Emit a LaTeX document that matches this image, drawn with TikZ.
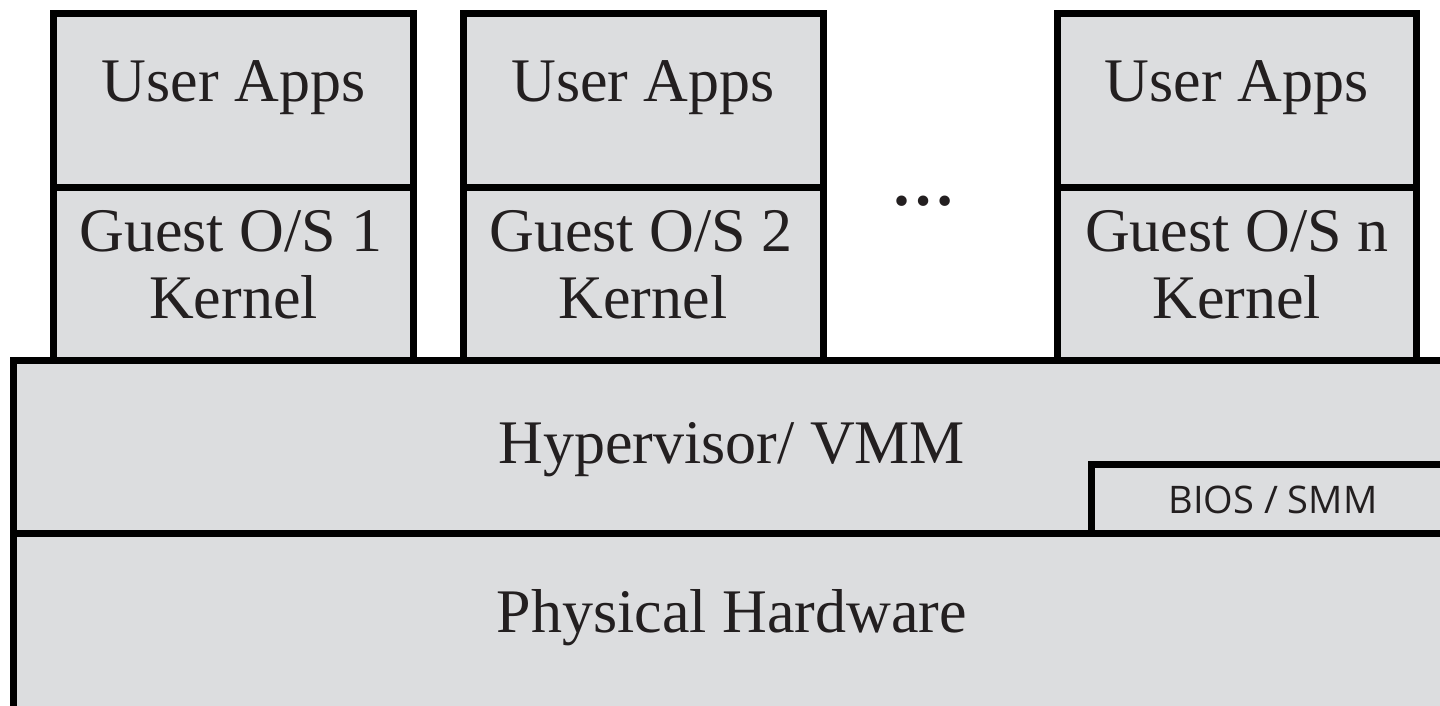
\documentclass[tikz,border=0pt]{standalone}
\usepackage{fontspec}
\setmainfont{Liberation Serif}
\newfontfamily\biosfont{Open Sans}
\definecolor{boxfill}{RGB}{220,221,223}
\definecolor{ink}{RGB}{35,31,32}
\begin{document}
\begin{tikzpicture}[x=1pt,y=-1pt,
  layer/.style={draw=black,fill=boxfill,line width=7pt},
  bigtext/.style={anchor=base,inner sep=0pt,text=ink,font=\fontsize{62}{67}\selectfont},
  smalltext/.style={anchor=base,inner sep=0pt,text=ink,font=\biosfont\fontsize{38}{40}\selectfont}]
\useasboundingbox (0,0) rectangle (1440,705);
\clip (0,0) rectangle (1440,705);
% hardware and hypervisor
\path[layer] (13.5,533.5) rectangle (1470,730);
\path[layer] (13.5,360) rectangle (1470,533.5);
\path[layer] (1091,464.5) rectangle (1470,533.5);
% VM stacks
\foreach \l/\r in {53.5/413.4, 463/823, 1057/1416.5}{
  \path[layer] (\l,13.5) rectangle (\r,187);
  \path[layer] (\l,187) rectangle (\r,360);
}
% texts
\node[bigtext] (ua1) at (233.5,101.7) {User Apps};
\node[bigtext] (ua2) at (643,101.7) {User Apps};
\node[bigtext] (ua3) at (1236.7,101.7) {User Apps};
\node[bigtext] (g1) at (231,251.7) {Guest O/S 1};
\node[bigtext] (k1) at (233.5,318.3) {Kernel};
\node[bigtext] (g2) at (641,251.7) {Guest O/S 2};
\node[bigtext] (k2) at (643,318.3) {Kernel};
\node[bigtext] (gn) at (1236.7,251.7) {Guest O/S n};
\node[bigtext] (kn) at (1236.7,318.3) {Kernel};
\node[bigtext,font=\bfseries\fontsize{64}{67}\selectfont] (dots) at (923.3,205) {…};
\node[bigtext] (hyp) at (731.7,463.3) {Hypervisor/ VMM};
\node[bigtext] (hw) at (731.7,632.7) {Physical Hardware};
\node[smalltext] (bios) at (1273,513.3) {BIOS / SMM};
\end{tikzpicture}
\end{document}
